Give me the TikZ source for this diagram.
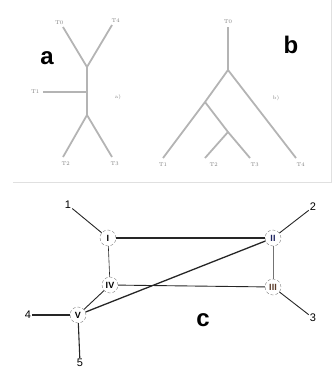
\documentclass[tikz,border=0pt]{standalone}
\usepackage{fontspec}
\setsansfont{Liberation Sans}
\usepackage{tikz}
\usetikzlibrary{positioning,calc}
\definecolor{branchgray}{HTML}{B4B4B4}
\definecolor{navy}{HTML}{1E2360}
\definecolor{rust}{HTML}{5A3A28}

\begin{document}
\begin{tikzpicture}[x=1pt, y=-1pt,
  branch/.style={draw=branchgray, line width=1.8pt},
  taxon/.style={font=\fontsize{5.5}{6}\selectfont, text=gray, inner sep=0.5pt},
  panel/.style={font=\sffamily\bfseries\fontsize{24}{24}\selectfont},
  tag/.style={font=\fontsize{5}{5}\selectfont, text=gray},
  vtx/.style={circle, draw=gray, densely dashed, fill=white, minimum size=16pt,
              inner sep=0pt, font=\sffamily\bfseries\fontsize{9}{9}\selectfont},
  leaf/.style={font=\sffamily\fontsize{11}{11}\selectfont, inner sep=1pt},
  edge/.style={draw=black!85, line width=0.9pt}]
  \useasboundingbox (0,0) rectangle (336,376);

  % frame of the two trees
  \draw[black!12, line width=0.8pt] (13,182) -- (331,182) -- (331,0);

  % tree a
  \coordinate (a-up) at (87,67);
  \coordinate (a-mid) at (87,92);
  \coordinate (a-low) at (87,115);
  \coordinate (a-e0) at (63,27);
  \coordinate (a-e4) at (112,25);
  \coordinate (a-e1) at (43,92);
  \coordinate (a-e2) at (63,157);
  \coordinate (a-e3) at (112,157);
  \draw[branch] (a-e0) -- (a-up) -- (a-e4);
  \draw[branch] (a-up) -- (a-low);
  \draw[branch] (a-e1) -- (a-mid);
  \draw[branch] (a-e2) -- (a-low) -- (a-e3);
  \node[taxon, above left=2pt and -1pt of a-e0] (a-t0) {T0};
  \node[taxon, above right=2pt and -1pt of a-e4] (a-t4) {T4};
  \node[taxon, left=3pt of a-e1] (a-t1) {T1};
  \node[taxon, below right=4pt and -2pt of a-e2] (a-t2) {T2};
  \node[taxon, below right=4pt and -2pt of a-e3] (a-t3) {T3};
  \node[panel] (a-name) at (47,58) {a};
  \node[tag] (a-tag) at (118,97) {a)};

  % tree b
  \coordinate (b-e0) at (228,27);
  \coordinate (b-root) at (228,70);
  \coordinate (b-n1) at (205,102);
  \coordinate (b-n2) at (228,132);
  \coordinate (b-e1) at (163,158);
  \coordinate (b-e2) at (205,158);
  \coordinate (b-e3) at (250,158);
  \coordinate (b-e4) at (296,158);
  \draw[branch] (b-e0) -- (b-root) -- (b-e4);
  \draw[branch] (b-root) -- (b-n1) -- (b-e1);
  \draw[branch] (b-n1) -- (b-n2) -- (b-e3);
  \draw[branch] (b-n2) -- (b-e2);
  \node[taxon, above=3pt of b-e0] (b-t0) {T0};
  \node[taxon, below=4pt of b-e1] (b-t1) {T1};
  \node[taxon, below right=4pt and 4pt of b-e2] (b-t2) {T2};
  \node[taxon, below right=4pt and 0pt of b-e3] (b-t3) {T3};
  \node[taxon, below right=4pt and 0pt of b-e4] (b-t4) {T4};
  \node[panel] (b-name) at (291,45) {b};
  \node[tag] (b-tag) at (276,98) {b)};

  % graph c
  \node[vtx] (I) at (108,238) {I};
  \node[vtx, text=navy] (II) at (273,238) {II};
  \node[vtx, text=rust] (III) at (273,287) {III};
  \node[vtx] (IV) at (110,285) {IV};
  \node[vtx] (V) at (78,315) {V};
  \node[leaf] (l1) at (68,205) {1};
  \node[leaf] (l2) at (313,207) {2};
  \node[leaf] (l3) at (313,318) {3};
  \node[leaf] (l4) at (28,315) {4};
  \node[leaf] (l5) at (80,363) {5};

  \draw[edge, line width=1.4pt] (I) -- (II);
  \draw[edge, line width=0.6pt] (I) -- (IV);
  \draw[edge] (IV) -- (III);
  \draw[draw=black!55, line width=0.5pt] (II) -- (III);
  \draw[edge] (V) -- (IV);
  \draw[edge, line width=1.3pt] (V) -- (II);
  \draw[edge] (l1) -- (I);
  \draw[edge] (l2) -- (II);
  \draw[edge] (l3) -- (III);
  \draw[edge, line width=1.1pt] (l4) -- (V);
  \draw[edge, line width=1.1pt] (l5) -- (V);
  \node[panel] (c-name) at (203,320) {c};
\end{tikzpicture}
\end{document}
